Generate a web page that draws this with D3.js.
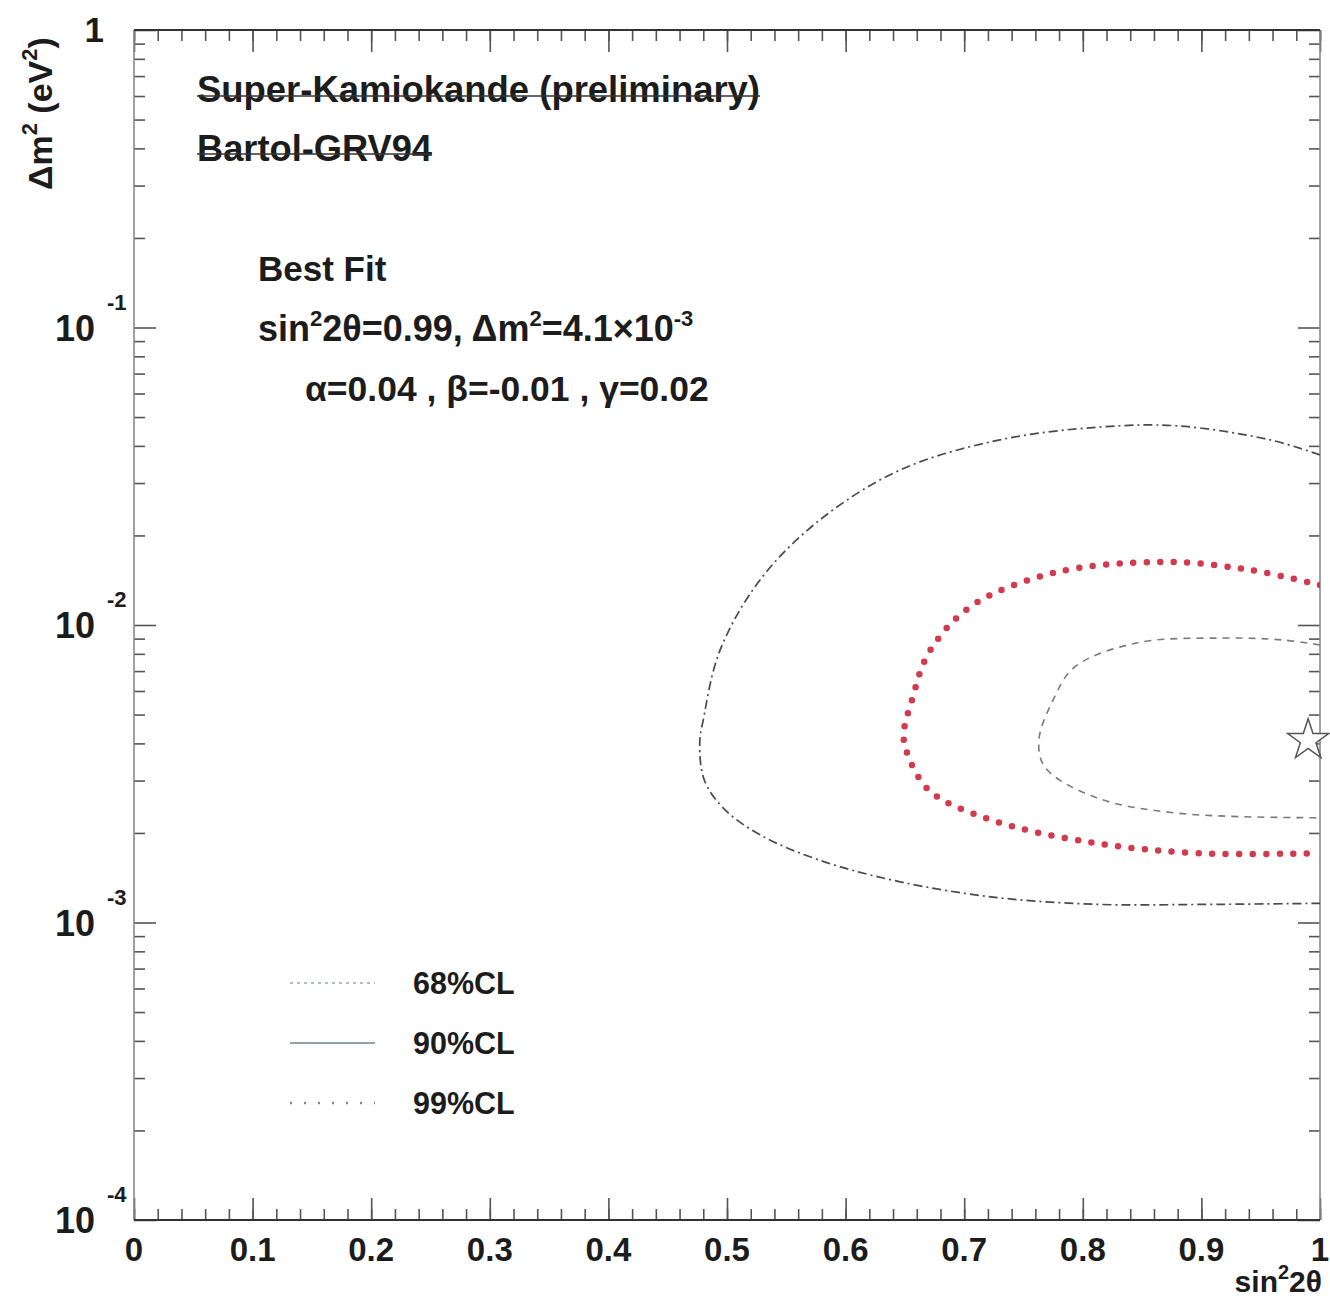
<!DOCTYPE html>
<html>
<head>
<meta charset="utf-8">
<script src="https://cdn.jsdelivr.net/npm/d3@7"></script>
<style>
  html, body { margin: 0; padding: 0; background: #fff; }
  svg { display: block; }
  text { font-family: "Liberation Sans", Arial, Helvetica, sans-serif; font-weight: bold; fill: #1c1c1c; }
</style>
</head>
<body>
<svg id="chart" width="1330" height="1297"></svg>
<script>
// Allowed-region contours in (sin^2 2θ, Δm^2 [eV^2])
const contour99 = [
  [1.000, 0.0373], [0.958, 0.0419], [0.880, 0.0467], [0.815, 0.0463], [0.730, 0.0419],
  [0.646, 0.0332], [0.578, 0.0225], [0.528, 0.0142], [0.494, 0.0082], [0.480, 0.0048],
  [0.477, 0.0040], [0.481, 0.0030], [0.498, 0.0024], [0.528, 0.00197], [0.578, 0.00162],
  [0.646, 0.00137], [0.730, 0.00121], [0.815, 0.00115], [0.899, 0.00115], [1.000, 0.00116]
];
const contour90 = [
  [1.000, 0.01362], [0.941, 0.01531], [0.869, 0.01629], [0.775, 0.01496], [0.705, 0.01150],
  [0.670, 0.00805], [0.656, 0.00560], [0.649, 0.00434], [0.651, 0.00380], [0.670, 0.00279],
  [0.723, 0.00221], [0.810, 0.00185], [0.898, 0.00171], [1.000, 0.00171]
];
const contour68 = [
  [1.000, 0.00857], [0.968, 0.00891], [0.915, 0.00904], [0.845, 0.00870], [0.793, 0.00722],
  [0.775, 0.00560], [0.763, 0.00410], [0.768, 0.00333], [0.810, 0.00264], [0.880, 0.00233],
  [1.000, 0.00225]
];
const bestFit = [0.99, 4.1e-3];

const xTickLabels = ["0", "0.1", "0.2", "0.3", "0.4", "0.5", "0.6", "0.7", "0.8", "0.9", "1"];
const xTickValues = [0, 0.1, 0.2, 0.3, 0.4, 0.5, 0.6, 0.7, 0.8, 0.9, 1];
const yDecadeExps = [0, -1, -2, -3, -4];
const legendLabels = ["68%CL", "90%CL", "99%CL"];

const margin = { left: 134, top: 30, right: 10, bottom: 77 };
const W = 1330, H = 1297;
const iw = W - margin.left - margin.right;   // 1186
const ih = H - margin.top - margin.bottom;   // 1190

const svg = d3.select("#chart");
const g = svg.append("g").attr("transform", `translate(${margin.left},${margin.top})`);

const x = d3.scaleLinear().domain([0, 1]).range([0, iw]);
const y = d3.scaleLog().domain([1e-4, 1]).range([ih, 0]);

// clip region for contours
svg.append("defs").append("clipPath").attr("id", "plotClip")
  .append("rect").attr("x", 0).attr("y", 0).attr("width", iw).attr("height", ih);

// ---- frame ticks ----
const xMinor = d3.range(0, 1.0001, 0.02).map(v => +v.toFixed(2));
const yMajor = yDecadeExps.map(e => Math.pow(10, e));
const yMinor = [];
for (let e = -4; e <= -1; e++) for (let k = 2; k <= 9; k++) yMinor.push(k * Math.pow(10, e));

const tickStyle = sel => {
  sel.select(".domain").remove();
  sel.selectAll("line").attr("stroke", "#555").attr("stroke-width", 1.6);
};

// bottom (ticks point up into the plot)
g.append("g").attr("transform", `translate(0,${ih})`)
  .call(d3.axisTop(x).tickValues(xMinor).tickSize(11).tickFormat("")).call(tickStyle);
g.append("g").attr("transform", `translate(0,${ih})`)
  .call(d3.axisTop(x).tickValues(xTickValues).tickSize(22).tickFormat("")).call(tickStyle);
// top (ticks point down)
g.append("g")
  .call(d3.axisBottom(x).tickValues(xMinor).tickSize(11).tickFormat("")).call(tickStyle);
g.append("g")
  .call(d3.axisBottom(x).tickValues(xTickValues).tickSize(22).tickFormat("")).call(tickStyle);
// left (ticks point right)
g.append("g")
  .call(d3.axisRight(y).tickValues(yMinor).tickSize(11).tickFormat("")).call(tickStyle);
g.append("g")
  .call(d3.axisRight(y).tickValues(yMajor).tickSize(22).tickFormat("")).call(tickStyle);
// right (ticks point left)
g.append("g").attr("transform", `translate(${iw},0)`)
  .call(d3.axisLeft(y).tickValues(yMinor).tickSize(11).tickFormat("")).call(tickStyle);
g.append("g").attr("transform", `translate(${iw},0)`)
  .call(d3.axisLeft(y).tickValues(yMajor).tickSize(22).tickFormat("")).call(tickStyle);

// frame
g.append("line").attr("x1", 0).attr("x2", 0).attr("y1", 0).attr("y2", ih)
  .attr("stroke", "#8a8a8a").attr("stroke-width", 1.6);
g.append("line").attr("x1", iw).attr("x2", iw).attr("y1", 0).attr("y2", ih)
  .attr("stroke", "#8a8a8a").attr("stroke-width", 1.6);
g.append("line").attr("x1", 0).attr("x2", iw).attr("y1", 0).attr("y2", 0)
  .attr("stroke", "#333").attr("stroke-width", 2);
g.append("line").attr("x1", 0).attr("x2", iw).attr("y1", ih).attr("y2", ih)
  .attr("stroke", "#333").attr("stroke-width", 2);

// ---- tick labels ----
g.selectAll(".xlab").data(xTickValues).join("text")
  .attr("class", "xlab")
  .attr("x", d => x(d)).attr("y", ih + 41)
  .attr("text-anchor", "middle")
  .style("font-size", "33px")
  .text((d, i) => xTickLabels[i]);

yDecadeExps.forEach(e => {
  const yy = y(Math.pow(10, e));
  if (e === 0) {
    g.append("text").attr("x", -30).attr("y", yy + 12)
      .attr("text-anchor", "end").style("font-size", "35px").text("1");
  } else {
    g.append("text").attr("x", -39).attr("y", yy + 13)
      .attr("text-anchor", "end").style("font-size", "36px").text("10");
    g.append("text").attr("x", -27).attr("y", yy - 18)
      .attr("text-anchor", "start").style("font-size", "22px").text(String(e));
  }
});

// axis titles
const xt = svg.append("text").attr("x", 1322).attr("y", 1292)
  .attr("text-anchor", "end").style("font-size", "30px");
xt.append("tspan").text("sin");
xt.append("tspan").attr("dy", -13).style("font-size", "20px").text("2");
xt.append("tspan").attr("dy", 13).text("2θ");

const yt = svg.append("text")
  .attr("transform", "translate(52,190) rotate(-90)")
  .attr("text-anchor", "start").style("font-size", "34px");
yt.append("tspan").text("Δm");
yt.append("tspan").attr("dy", -15).style("font-size", "22px").text("2");
yt.append("tspan").attr("dy", 15).text(" (eV");
yt.append("tspan").attr("dy", -15).style("font-size", "22px").text("2");
yt.append("tspan").attr("dy", 15).text(")");

// ---- contours ----
const line = d3.line()
  .x(d => x(d[0])).y(d => y(d[1]))
  .curve(d3.curveCatmullRom.alpha(0.5));

const plot = g.append("g").attr("clip-path", "url(#plotClip)");

plot.append("path").datum(contour99).attr("d", line)
  .attr("fill", "none").attr("stroke", "#4a4a4a").attr("stroke-width", 1.7)
  .attr("stroke-dasharray", "9 4 2 4");

plot.append("path").datum(contour90).attr("d", line)
  .attr("fill", "none").attr("stroke", "#d23a4e").attr("stroke-width", 6.5)
  .attr("stroke-linecap", "round").attr("stroke-dasharray", "0 13.5");

plot.append("path").datum(contour68).attr("d", line)
  .attr("fill", "none").attr("stroke", "#7a7a7a").attr("stroke-width", 1.6)
  .attr("stroke-dasharray", "7 6");

// best-fit star
g.append("path")
  .attr("transform", `translate(${x(bestFit[0])},${y(bestFit[1])})`)
  .attr("d", d3.symbol(d3.symbolStar).size(520)())
  .attr("fill", "#fff").attr("stroke", "#555").attr("stroke-width", 1.5);

// ---- annotation text ----
svg.append("text").attr("x", 197).attr("y", 102).style("font-size", "36px")
  .attr("textLength", 563).attr("lengthAdjust", "spacingAndGlyphs")
  .text("Super-Kamiokande (preliminary)");
svg.append("line").attr("x1", 197).attr("x2", 760).attr("y1", 96).attr("y2", 96)
  .attr("stroke", "#333").attr("stroke-width", 1.5);
svg.append("text").attr("x", 197).attr("y", 161).style("font-size", "36px")
  .attr("textLength", 235).attr("lengthAdjust", "spacingAndGlyphs")
  .text("Bartol-GRV94");
svg.append("line").attr("x1", 197).attr("x2", 432).attr("y1", 154).attr("y2", 154)
  .attr("stroke", "#333").attr("stroke-width", 1.5);

svg.append("text").attr("x", 258).attr("y", 281).style("font-size", "35px").text("Best Fit");

const bf = svg.append("text").attr("x", 258).attr("y", 341).style("font-size", "36px");
bf.append("tspan").text("sin");
bf.append("tspan").attr("dy", -15).style("font-size", "22px").text("2");
bf.append("tspan").attr("dy", 15).text("2θ=0.99, Δm");
bf.append("tspan").attr("dy", -15).style("font-size", "22px").text("2");
bf.append("tspan").attr("dy", 15).text("=4.1×10");
bf.append("tspan").attr("dy", -15).style("font-size", "22px").text("-3");

svg.append("text").attr("x", 305).attr("y", 401).style("font-size", "35.5px")
  .text("α=0.04 , β=-0.01 , γ=0.02");

// ---- legend ----
const legendStyles = [
  { stroke: "#9aa4a8", width: 1.6, dash: "3 4" },
  { stroke: "#8fa3a8", width: 2, dash: null },
  { stroke: "#888", width: 2.5, dash: "2 12" }
];
const leg = svg.append("g").attr("transform", "translate(290,983)");
legendLabels.forEach((lab, i) => {
  const s = legendStyles[i];
  leg.append("line").attr("x1", 0).attr("x2", 85).attr("y1", i * 60).attr("y2", i * 60)
    .attr("stroke", s.stroke).attr("stroke-width", s.width)
    .attr("stroke-dasharray", s.dash);
  leg.append("text").attr("x", 123).attr("y", i * 60 + 11).style("font-size", "30.5px").text(lab);
});
</script>
</body>
</html>
